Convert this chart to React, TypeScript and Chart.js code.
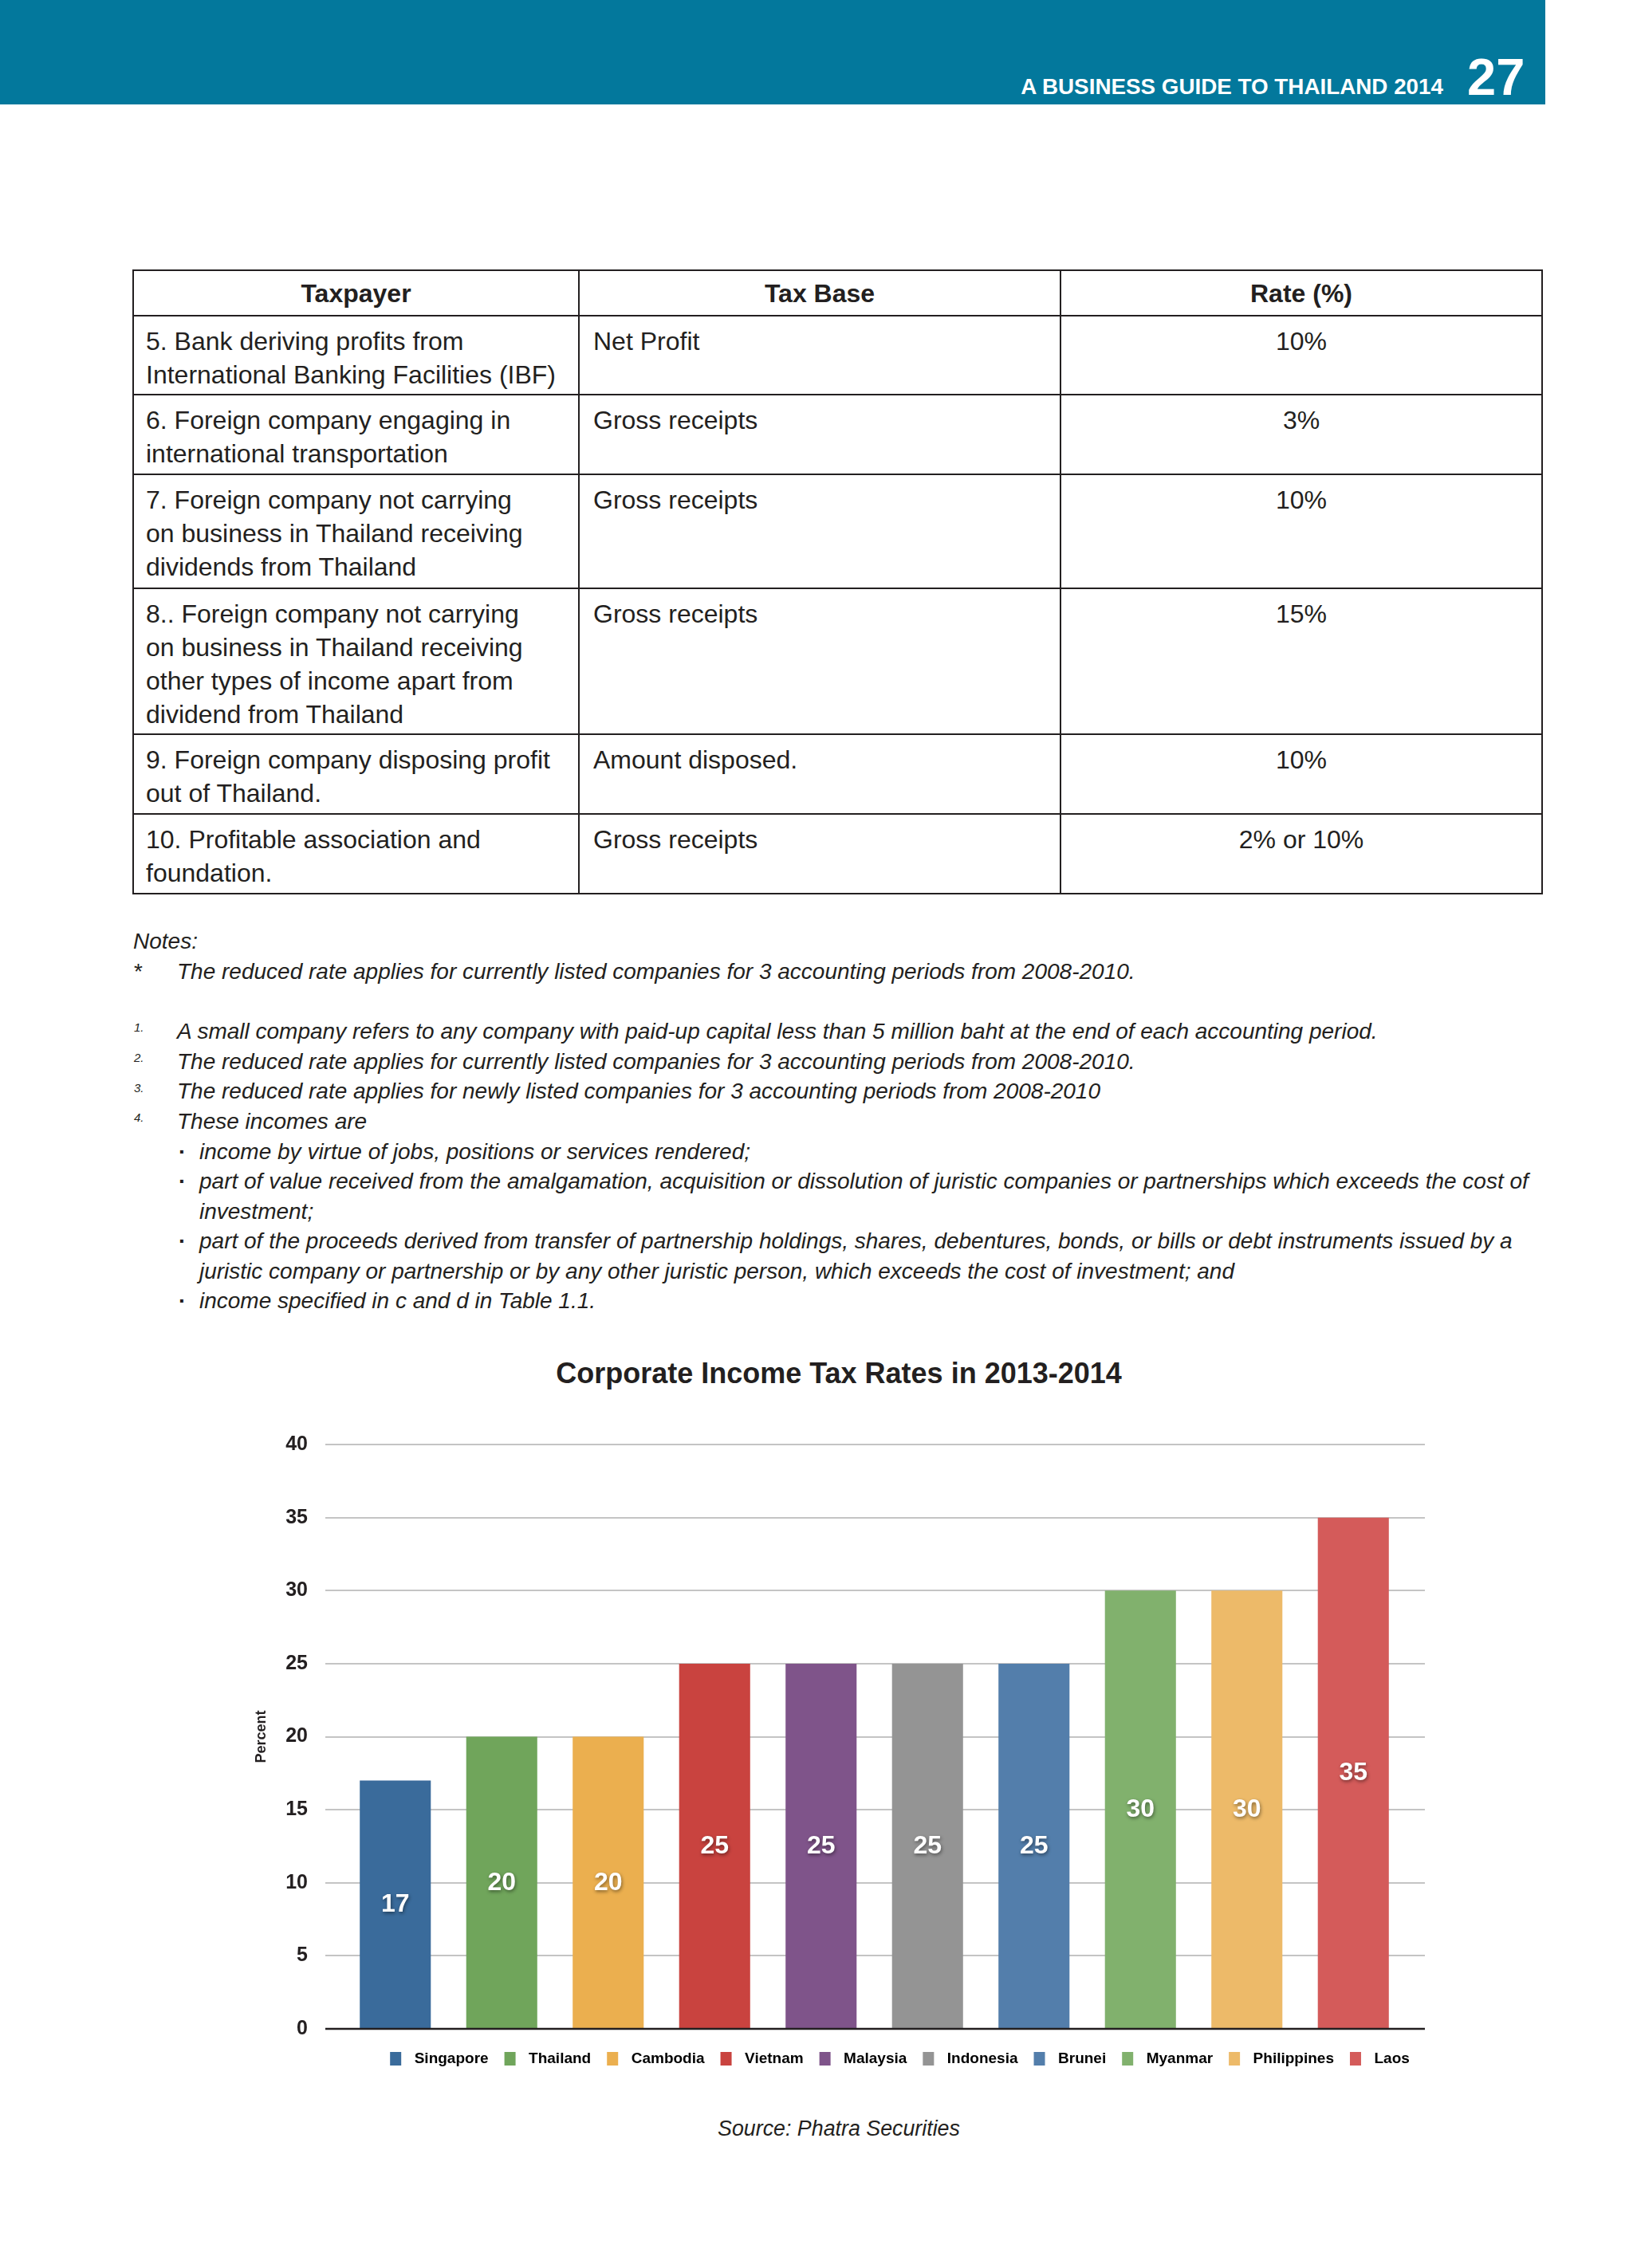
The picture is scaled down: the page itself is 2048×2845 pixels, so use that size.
import React, { useEffect, useRef } from "react";
import { Chart, registerables } from "chart.js";

Chart.register(...registerables);

// ---------- DATA ----------
const countries = [
  "Singapore",
  "Thailand",
  "Cambodia",
  "Vietnam",
  "Malaysia",
  "Indonesia",
  "Brunei",
  "Myanmar",
  "Philippines",
  "Laos",
];
const taxRates = [17, 20, 20, 25, 25, 25, 25, 30, 30, 35];
const barColors = [
  "#3a6b9b",
  "#70a55b",
  "#ebaf4f",
  "#c9433f",
  "#7f548a",
  "#949494",
  "#537eab",
  "#81b16d",
  "#edba69",
  "#d45b5a",
];
const yMin = 0;
const yMax = 40;
const yStep = 5;

const tableHeaders = ["Taxpayer", "Tax Base", "Rate (%)"];
const taxpayers = [
  ["5. Bank deriving profits from", "International Banking Facilities (IBF)"],
  ["6. Foreign company engaging in", "international transportation"],
  ["7. Foreign company not carrying", "on business in Thailand receiving", "dividends from Thailand"],
  [
    "8.. Foreign company not carrying",
    "on business in Thailand receiving",
    "other types of income apart from",
    "dividend from Thailand",
  ],
  ["9. Foreign company disposing profit", "out of Thailand."],
  ["10. Profitable association and", "foundation."],
];
const taxBases = [
  "Net Profit",
  "Gross receipts",
  "Gross receipts",
  "Gross receipts",
  "Amount disposed.",
  "Gross receipts",
];
const rateTexts = ["10%", "3%", "10%", "15%", "10%", "2% or 10%"];

const noteStar = "The reduced rate applies for currently listed companies for 3 accounting periods from 2008-2010.";
const numberedNotes = [
  "A small company refers to any company with paid-up capital less than 5 million baht at the end of each accounting period.",
  "The reduced rate applies for currently listed companies for 3 accounting periods from 2008-2010.",
  "The reduced rate applies for newly listed companies for 3 accounting periods from 2008-2010",
  "These incomes are",
];
const bulletNotes = [
  ["income by virtue of jobs, positions or services rendered;"],
  [
    "part of value received from the amalgamation, acquisition or dissolution of juristic companies or partnerships which exceeds the cost of",
    "investment;",
  ],
  [
    "part of the proceeds derived from transfer of partnership holdings, shares, debentures, bonds, or bills or debt instruments issued by a",
    "juristic company or partnership or by any other juristic person, which exceeds the cost of investment; and",
  ],
  ["income specified in c and d in Table 1.1."],
];

const chartTitle = "Corporate Income Tax Rates in 2013-2014";
const yAxisTitle = "Percent";
const sourceText = "Source: Phatra Securities";
const headerTitle = "A BUSINESS GUIDE TO THAILAND 2014";
const pageNumber = "27";

// ---------- LAYOUT ----------
const FONT = '"Liberation Sans", Arial, Helvetica, sans-serif';
const INK = "#231f20";
const ASC = 0.8465; // baseline offset for line-height = font-size

const tableX = [167, 726, 1330, 1934];
const tableY = [339, 395.5, 495, 595, 738, 921, 1021, 1121];
const tableFont = 32;
const tableLine = 41.7;
const noteFont = 28;

type TProps = {
  x: number;
  baseline: number;
  size: number;
  bold?: boolean;
  italic?: boolean;
  align?: "left" | "center" | "right";
  color?: string;
  children: React.ReactNode;
};

function T({ x, baseline, size, bold, italic, align = "left", color = INK, children }: TProps) {
  const W = 2400;
  let left = x;
  if (align === "center") left = x - W / 2;
  if (align === "right") left = x - W;
  return (
    <div
      style={{
        position: "absolute",
        left,
        top: baseline - ASC * size,
        width: align === "left" ? undefined : W,
        textAlign: align,
        fontFamily: FONT,
        fontSize: size,
        lineHeight: `${size}px`,
        fontWeight: bold ? 700 : 400,
        fontStyle: italic ? "italic" : "normal",
        color,
        whiteSpace: "nowrap",
      }}
    >
      {children}
    </div>
  );
}

function BarChart() {
  const ref = useRef<HTMLCanvasElement | null>(null);
  useEffect(() => {
    if (!ref.current) return;

    const gridPlugin = {
      id: "extendedGrid",
      beforeDatasetsDraw(chart: any) {
        const ctx = chart.ctx;
        const ys = chart.scales.y;
        const { left, right } = chart.chartArea;
        ctx.save();
        ys.ticks.forEach((t: any) => {
          if (t.value === yMin) return;
          const py = Math.round(ys.getPixelForValue(t.value));
          ctx.strokeStyle = "#c4c4c4";
          ctx.lineWidth = 2;
          ctx.beginPath();
          ctx.moveTo(left - 21, py);
          ctx.lineTo(right + 23, py);
          ctx.stroke();
        });
        ctx.restore();
      },
      afterDatasetsDraw(chart: any) {
        const ctx = chart.ctx;
        const ys = chart.scales.y;
        const { left, right } = chart.chartArea;
        const py = Math.round(ys.getPixelForValue(yMin));
        ctx.save();
        ctx.strokeStyle = INK;
        ctx.lineWidth = 2.5;
        ctx.beginPath();
        ctx.moveTo(left - 21, py);
        ctx.lineTo(right + 23, py);
        ctx.stroke();

        // value labels in the middle of each bar
        const meta = chart.getDatasetMeta(0);
        const values = chart.data.datasets[0].data;
        ctx.font = `bold 32px ${FONT}`;
        ctx.fillStyle = "#ffffff";
        ctx.textAlign = "center";
        ctx.textBaseline = "middle";
        ctx.shadowColor = "rgba(0,0,0,0.45)";
        ctx.shadowBlur = 4;
        ctx.shadowOffsetX = 1;
        ctx.shadowOffsetY = 2;
        meta.data.forEach((bar: any, i: number) => {
          const p = bar.getProps(["x", "y", "base"], true);
          ctx.fillText(String(values[i]), p.x, (p.y + p.base) / 2);
        });
        ctx.restore();
      },
    };

    const chart = new Chart(ref.current, {
      type: "bar",
      data: {
        labels: countries,
        datasets: [
          {
            data: taxRates,
            backgroundColor: barColors,
            borderWidth: 0,
            barPercentage: 0.8,
            categoryPercentage: 0.834,
          },
        ],
      },
      options: {
        animation: false,
        responsive: false,
        maintainAspectRatio: false,
        devicePixelRatio: 1,
        layout: { padding: { left: 13.7, right: 13.7, top: 152, bottom: 10 } },
        plugins: {
          tooltip: { enabled: false },
          title: { display: false },
          legend: {
            display: true,
            position: "bottom",
            labels: {
              boxWidth: 28,
              boxHeight: 31,
              padding: 13,
              color: INK,
              font: { family: FONT, size: 19, weight: "bold" },
              generateLabels: () =>
                countries.map((c, i) => ({
                  text: c,
                  fillStyle: barColors[i],
                  strokeStyle: "#ffffff",
                  lineWidth: 14,
                  hidden: false,
                  index: i,
                  datasetIndex: 0,
                })),
            },
          },
        },
        scales: {
          x: {
            display: true,
            grid: { display: true, color: "rgba(0,0,0,0)", drawTicks: true, tickLength: 9 },
            border: { display: false },
            ticks: { display: false },
          },
          y: {
            min: yMin,
            max: yMax,
            grid: { display: false, drawTicks: false },
            border: { display: false },
            ticks: {
              stepSize: yStep,
              padding: 43,
              color: INK,
              font: { family: FONT, size: 25, weight: "bold" },
            },
            title: {
              display: true,
              text: yAxisTitle,
              color: INK,
              font: { family: FONT, size: 18, weight: "bold" },
              padding: { top: 4, bottom: 20 },
            },
            afterFit: (s: any) => {
              s.width = 115.3;
            },
          },
          y2: {
            type: "linear",
            position: "right",
            display: true,
            grid: { display: false, drawTicks: false },
            border: { display: false },
            ticks: { display: false },
            afterFit: (s: any) => {
              s.width = 172.3;
            },
          },
        },
      } as any,
      plugins: [gridPlugin],
    });
    return () => chart.destroy();
  }, []);

  return (
    <canvas
      ref={ref}
      width={1650}
      height={958}
      style={{ position: "absolute", left: 300, top: 1660, width: 1650, height: 958 }}
    />
  );
}

export default function App() {
  const rowTops = tableY.slice(1, tableY.length - 1);
  return (
    <div
      style={{
        position: "absolute",
        left: 0,
        top: 0,
        width: 2048,
        height: 2845,
        overflow: "hidden",
        background: "#ffffff",
      }}
    >
      {/* header band */}
      <div style={{ position: "absolute", left: 0, top: 0, width: 1938, height: 131, background: "#03789c" }} />
      <T x={1810} baseline={119} size={27.8} bold align="right" color="#ffffff">
        {headerTitle}
      </T>
      <T x={1840} baseline={119} size={65} bold color="#ffffff">
        {pageNumber}
      </T>

      {/* table lines */}
      {tableY.map((y, i) => (
        <div
          key={"h" + i}
          style={{
            position: "absolute",
            left: tableX[0] - 1,
            top: y - 1,
            width: tableX[3] - tableX[0] + 2,
            height: 2,
            background: INK,
          }}
        />
      ))}
      {tableX.map((x, i) => (
        <div
          key={"v" + i}
          style={{
            position: "absolute",
            left: x - 1,
            top: tableY[0] - 1,
            width: 2,
            height: tableY[tableY.length - 1] - tableY[0] + 2,
            background: INK,
          }}
        />
      ))}
      {tableHeaders.map((h, i) => (
        <T key={"th" + i} x={(tableX[i] + tableX[i + 1]) / 2} baseline={379.5} size={tableFont} bold align="center">
          {h}
        </T>
      ))}
      {taxpayers.map((lines, r) =>
        lines.map((ln, k) => (
          <T key={`tp${r}-${k}`} x={183} baseline={rowTops[r] + 43.5 + k * tableLine} size={tableFont}>
            {ln}
          </T>
        ))
      )}
      {taxBases.map((b, r) => (
        <T key={"tb" + r} x={744} baseline={rowTops[r] + 43.5} size={tableFont}>
          {b}
        </T>
      ))}
      {rateTexts.map((t, r) => (
        <T key={"rt" + r} x={(tableX[2] + tableX[3]) / 2} baseline={rowTops[r] + 43.5} size={tableFont} align="center">
          {t}
        </T>
      ))}

      {/* notes */}
      <T x={167} baseline={1191} size={noteFont} italic>
        Notes:
      </T>
      <T x={168} baseline={1229} size={noteFont}>
        *
      </T>
      <T x={222} baseline={1229} size={noteFont} italic>
        {noteStar}
      </T>
      {numberedNotes.map((n, i) => (
        <React.Fragment key={"nn" + i}>
          <T x={168} baseline={1294 + i * 37.6} size={15} italic>
            {`${i + 1}.`}
          </T>
          <T x={222} baseline={1304 + i * 37.6} size={noteFont} italic>
            {n}
          </T>
        </React.Fragment>
      ))}
      {(() => {
        const out: React.ReactNode[] = [];
        let line = 0;
        bulletNotes.forEach((b, i) => {
          b.forEach((ln, k) => {
            const bl = 1454.5 + line * 37.5;
            if (k === 0)
              out.push(
                <T key={`bd${i}`} x={224} baseline={bl} size={noteFont} bold>
                  {"·"}
                </T>
              );
            out.push(
              <T key={`bl${i}-${k}`} x={250} baseline={bl} size={noteFont} italic>
                {ln}
              </T>
            );
            line++;
          });
        });
        return out;
      })()}

      {/* chart */}
      <T x={1052} baseline={1735} size={36} bold align="center">
        {chartTitle}
      </T>
      <BarChart />
      <T x={1052} baseline={2680} size={26.8} italic align="center">
        {sourceText}
      </T>
    </div>
  );
}
